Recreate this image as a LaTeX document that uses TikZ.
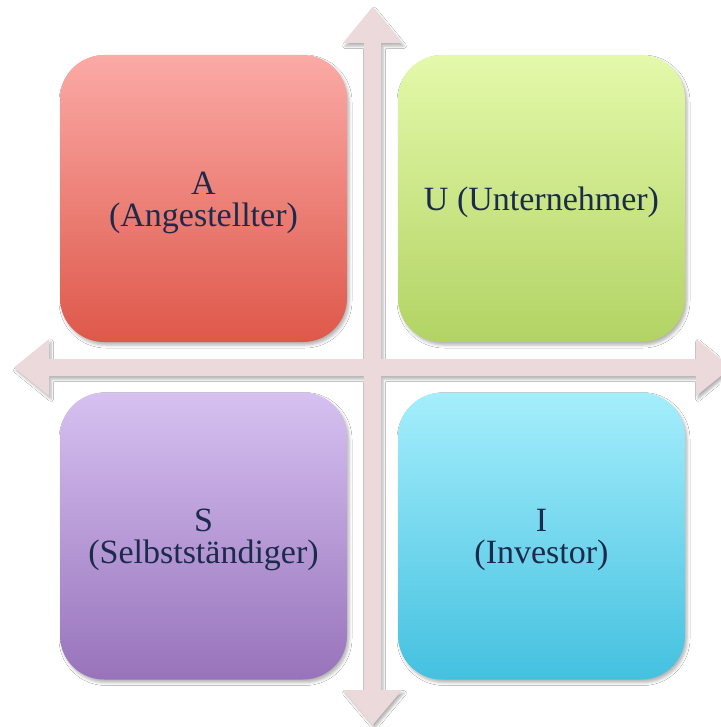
\documentclass[tikz,border=0pt]{standalone}
\usepackage{fontspec}
\setmainfont{Liberation Serif}
\usetikzlibrary{shadows,shadows.blur}

\definecolor{crossfill}{RGB}{235,217,219}
\definecolor{labeltext}{RGB}{27,43,75}
\definecolor{aTop}{RGB}{251,170,166}
\definecolor{aBot}{RGB}{222,88,74}
\definecolor{uTop}{RGB}{228,249,170}
\definecolor{uBot}{RGB}{178,211,100}
\definecolor{sTop}{RGB}{214,193,241}
\definecolor{sBot}{RGB}{152,115,187}
\definecolor{iTop}{RGB}{165,238,252}
\definecolor{iBot}{RGB}{68,193,224}

\tikzset{
  quadrant/.style={rectangle, rounded corners=44pt,
    minimum width=287pt, minimum height=287pt, inner sep=0pt,
    blur shadow={shadow xshift=2pt, shadow yshift=-3pt,
      shadow blur radius=3pt, shadow opacity=30}},
  quadlabel/.style={align=center, text=labeltext, inner sep=0pt,
    font=\fontsize{34}{32}\selectfont},
  crossarrow/.style={fill=crossfill,
    blur shadow={shadow xshift=2pt, shadow yshift=-3pt,
      shadow blur radius=2.5pt, shadow opacity=30}}
}

\begin{document}
\begin{tikzpicture}[x=1pt,y=-1pt]
  \useasboundingbox[fill=white] (0,0) rectangle (720,727);

  % the axis cross with four arrow heads
  \path[crossarrow]
    (372.5,7) -- (402,43) -- (381,43) -- (381,359) -- (696,359) -- (696,339)
    -- (731,367.5) -- (696,396) -- (696,376) -- (381,376) -- (381,690)
    -- (402,690) -- (372.5,725) -- (343,690) -- (364,690) -- (364,376)
    -- (49,376) -- (49,396) -- (14,367.5) -- (49,339) -- (49,359)
    -- (364,359) -- (364,43) -- (343,43) -- cycle;

  % the four quadrants
  \node[quadrant, top color=aTop, bottom color=aBot] (A) at (203.5,198.5) {};
  \node[quadrant, top color=uTop, bottom color=uBot] (U) at (541.5,198.5) {};
  \node[quadrant, top color=sTop, bottom color=sBot] (S) at (203.5,536) {};
  \node[quadrant, top color=iTop, bottom color=iBot] (I) at (541.5,536) {};

  % their labels, set a little below the centre
  \node[quadlabel] (Atext) at ([yshift=-4pt]A.center) {A\\(Angestellter)};
  \node[quadlabel] (Utext) at ([yshift=-4pt]U.center) {U (Unternehmer)};
  \node[quadlabel] (Stext) at ([yshift=-4pt]S.center) {S\\(Selbstständiger)};
  \node[quadlabel] (Itext) at ([yshift=-4pt]I.center) {I\\(Investor)};
\end{tikzpicture}
\end{document}
